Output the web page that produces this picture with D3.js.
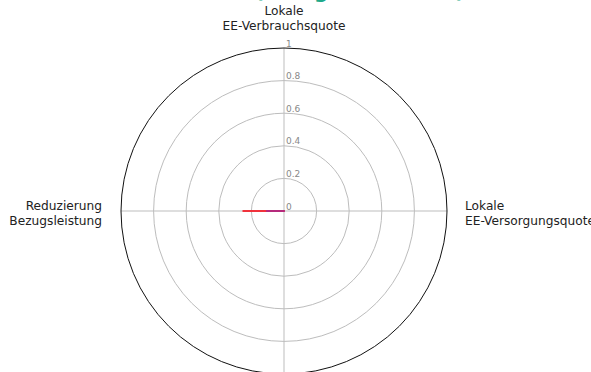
<!DOCTYPE html>
<html>
<head>
<meta charset="utf-8">
<script src="https://cdn.jsdelivr.net/npm/d3@7"></script>
<style>
  html, body { margin: 0; padding: 0; background: #fff; }
  svg { display: block; font-family: "DejaVu Sans", sans-serif; }
</style>
</head>
<body>
<svg id="chart" width="591" height="372"></svg>
<script>
// Radar axes, clockwise from the top
const axes = [
  ["Lokale", "EE-Verbrauchsquote"],
  ["Lokale", "EE-Versorgungsquote"],
  ["Eigenverbrauchs-", "anteil"],
  ["Reduzierung", "Bezugsleistung"]
];
const ticks = [0, 0.2, 0.4, 0.6, 0.8, 1];
const tickLabels = ["0", "0.2", "0.4", "0.6", "0.8", "1"];
const seriesNames = ["Szenario A", "Szenario B"];
const seriesA = [0, 0, 0, 0.25];
const seriesB = [0, 0, 0, 0.105];
const seriesColors = ["#f0323c", "#b52a7c"];
const title = "KPI-Radar (Anlage Süd-West)";

const svg = d3.select("#chart");
const cx = 284, cy = 211;
const r = d3.scaleLinear().domain([0, 1]).range([0, 163]);
const angle = d3.scaleLinear().domain([0, axes.length]).range([0, 2 * Math.PI]);

const g = svg.append("g").attr("transform", `translate(${cx},${cy})`);

// title (sits mostly above the visible area)
svg.append("text")
  .attr("x", 300).attr("y", -2)
  .attr("text-anchor", "middle")
  .attr("font-size", 20).attr("font-weight", "bold")
  .attr("fill", "#1fa98a")
  .text(title);

// grid circles
g.selectAll("circle.grid")
  .data(ticks.filter(t => t > 0 && t < 1))
  .join("circle")
  .attr("class", "grid")
  .attr("r", d => r(d))
  .attr("fill", "none")
  .attr("stroke", "#bdbdbd")
  .attr("stroke-width", 1);

// spokes
g.selectAll("line.spoke")
  .data(axes)
  .join("line")
  .attr("class", "spoke")
  .attr("x1", 0).attr("y1", 0)
  .attr("x2", (d, i) => r(1) * Math.sin(angle(i)))
  .attr("y2", (d, i) => -r(1) * Math.cos(angle(i)))
  .attr("stroke", "#bdbdbd")
  .attr("stroke-width", 1);

// outer frame
g.append("circle")
  .attr("r", r(1))
  .attr("fill", "none")
  .attr("stroke", "#111")
  .attr("stroke-width", 1);

// radial tick labels
g.selectAll("text.tick")
  .data(ticks)
  .join("text")
  .attr("class", "tick")
  .attr("x", 2)
  .attr("y", d => -r(d) - 1.5)
  .attr("font-size", 9)
  .attr("fill", "#888")
  .text((d, i) => tickLabels[i]);

// axis labels
const labelPos = [
  { x: 0, y: -196, anchor: "middle" },
  { x: 181, y: -1, anchor: "start" },
  { x: 0, y: 210, anchor: "middle" },
  { x: -182, y: -1, anchor: "end" }
];
axes.forEach((lines, i) => {
  const p = labelPos[i];
  const t = g.append("text")
    .attr("text-anchor", p.anchor)
    .attr("font-size", 12.2)
    .attr("fill", "#222");
  lines.forEach((ln, j) => {
    t.append("tspan").attr("x", p.x).attr("y", p.y + j * 15).text(ln);
  });
});

// series polygons
const line = d3.lineRadial()
  .angle((d, i) => angle(i))
  .radius(d => r(d))
  .curve(d3.curveLinearClosed);

[seriesA, seriesB].forEach((vals, k) => {
  g.append("path")
    .datum(vals)
    .attr("d", line)
    .attr("fill", seriesColors[k])
    .attr("fill-opacity", 0.25)
    .attr("stroke", seriesColors[k])
    .attr("stroke-width", 2)
    .attr("stroke-linejoin", "round")
    .append("title").text(seriesNames[k]);
});
</script>
</body>
</html>
